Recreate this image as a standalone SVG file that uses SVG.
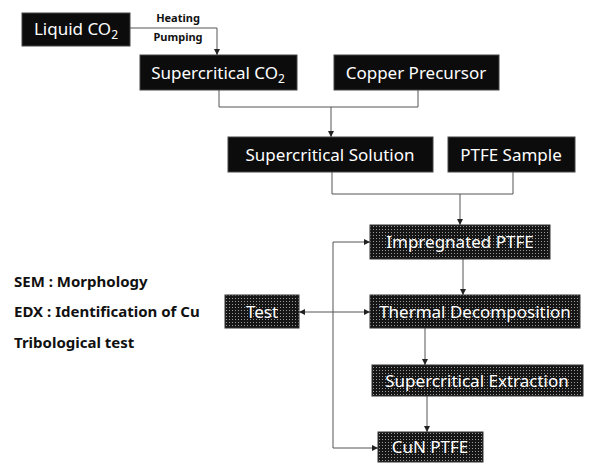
<svg xmlns="http://www.w3.org/2000/svg" width="590" height="464" viewBox="0 0 590 464">
<style>
.box1{fill:#0c0c0c;stroke:#444;stroke-width:1}
.box2{fill:url(#dots);stroke:#333;stroke-width:1}
.nt{font-family:"Noto Sans","Open Sans",sans-serif;font-size:17px;fill:#fff;text-anchor:middle}
.lab{font-family:"Noto Sans","Open Sans",sans-serif;font-size:11px;font-weight:bold;fill:#111}
.side{font-family:"Noto Sans","Open Sans",sans-serif;font-size:15px;font-weight:bold;fill:#111}
.con{fill:none;stroke:#555;stroke-width:1}
</style>
<defs>
<pattern id="dots" width="3" height="3" patternUnits="userSpaceOnUse">
<rect width="3" height="3" fill="#161616"/>
<rect x="1" y="1" width="1" height="1" fill="#9a9a9a"/>
</pattern>
<marker id="ah" viewBox="0 0 10 10" refX="10" refY="5" markerWidth="6" markerHeight="6" orient="auto-start-reverse" markerUnits="userSpaceOnUse">
<path d="M0,0 L10,5 L0,10 z" fill="#222"/>
</marker>
</defs>
<g id="connectors">
<path class="con" d="M130,28 H217 V55" marker-end="url(#ah)"/>
<path class="con" d="M219,90 V107 H418 V90"/>
<path class="con" d="M331,107 V137" marker-end="url(#ah)"/>
<path class="con" d="M332,172 V194 H513 V172"/>
<path class="con" d="M460,194 V225" marker-end="url(#ah)"/>
<path class="con" d="M463,259 V295" marker-end="url(#ah)"/>
<path class="con" d="M425,328 V365" marker-end="url(#ah)"/>
<path class="con" d="M427,396 V432" marker-end="url(#ah)"/>
<path class="con" d="M370,242 H333 V448 H378" marker-start="url(#ah)" marker-end="url(#ah)"/>
<path class="con" d="M299,312 H370" marker-start="url(#ah)" marker-end="url(#ah)"/>
<text class="lab" x="178" y="22" text-anchor="middle">Heating</text>
<text class="lab" x="178" y="41" text-anchor="middle">Pumping</text>
</g>
<g id="liquid-co2"><rect class="box1" x="22" y="13" width="108" height="33"/><text class="nt" x="76" y="35">Liquid CO<tspan font-size="12" dy="4">2</tspan></text></g>
<g id="supercritical-co2"><rect class="box1" x="140" y="55" width="157" height="35"/><text class="nt" x="218" y="79">Supercritical CO<tspan font-size="12" dy="4">2</tspan></text></g>
<g id="copper-precursor"><rect class="box1" x="334" y="55" width="165" height="35"/><text class="nt" x="416" y="79">Copper Precursor</text></g>
<g id="supercritical-solution"><rect class="box1" x="228" y="137" width="205" height="35"/><text class="nt" x="330" y="161">Supercritical Solution</text></g>
<g id="ptfe-sample"><rect class="box1" x="448" y="137" width="127" height="35"/><text class="nt" x="511" y="161">PTFE Sample</text></g>
<g id="impregnated-ptfe"><rect class="box2" x="370" y="225" width="180" height="34"/><text class="nt" x="460" y="248">Impregnated PTFE</text></g>
<g id="thermal-decomposition"><rect class="box2" x="370" y="295" width="210" height="33"/><text class="nt" x="475" y="318">Thermal Decomposition</text></g>
<g id="supercritical-extraction"><rect class="box2" x="372" y="365" width="211" height="31"/><text class="nt" x="477" y="387">Supercritical Extraction</text></g>
<g id="cun-ptfe"><rect class="box2" x="378" y="432" width="105" height="30"/><text class="nt" x="430" y="453">CuN PTFE</text></g>
<g id="test"><rect class="box2" x="225" y="295" width="74" height="33"/><text class="nt" x="262" y="318">Test</text></g>
<g id="notes">
<text class="side" x="14" y="287">SEM : Morphology</text>
<text class="side" x="14" y="317">EDX : Identification of Cu</text>
<text class="side" x="14" y="348">Tribological test</text>
</g>
</svg>
